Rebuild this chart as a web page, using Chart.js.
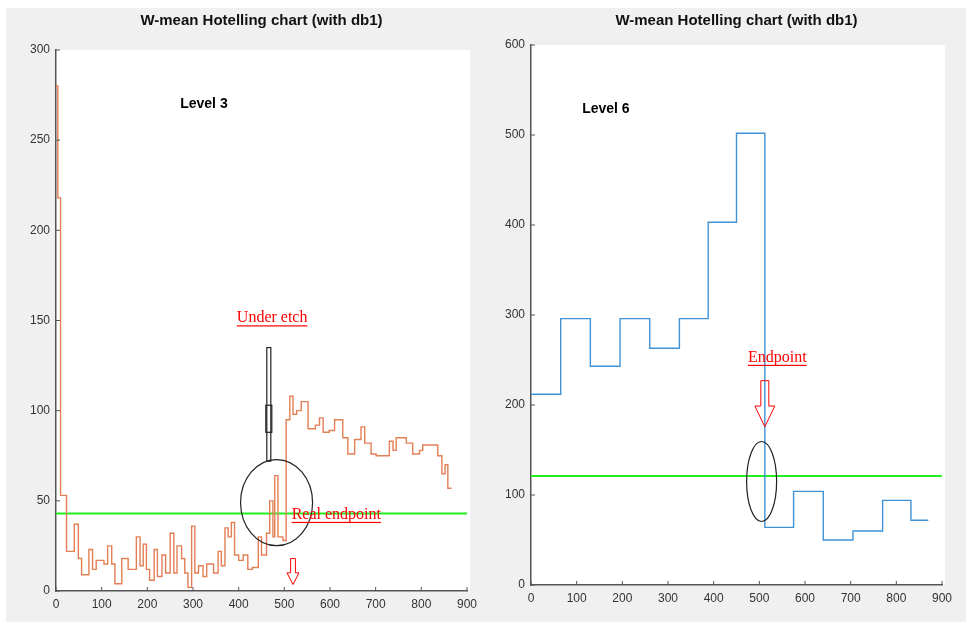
<!DOCTYPE html>
<html>
<head>
<meta charset="utf-8">
<script src="https://cdn.jsdelivr.net/npm/chart.js@4"></script>
<style>
  body { margin: 0; background: #fff; width: 970px; height: 627px; overflow: hidden; }
  .bg { position: absolute; left: 6px; top: 8px; width: 960px; height: 614px; background: #f0f0f0; }
  canvas { position: absolute; top: 0; }
</style>
</head>
<body>
<div class="bg"></div>
<canvas id="left" style="left:0px"></canvas>
<canvas id="right" style="left:485px"></canvas>
<script>
// Level 3 series (step start x, value)
const level3X = [0,4,10,23,40,49,56,72,80,88,105,113,122,129,144,158,176,184,191,198,205,215,222,232,240,250,258,265,275,282,289,297,304,312,322,330,345,355,362,370,377,384,391,400,410,420,430,443,450,461,468,475,479,486,497,504,512,519,527,537,552,568,577,585,598,610,628,639,654,668,676,690,701,730,738,745,767,781,796,803,836,845,852,858,866];
const level3Y = [280,218,53,22,37,18,9,23,12,17,15,25,15,4,18,12,30,14,26,12,6,23,8,20,10,32,10,25,18,10,2,36,10,14,8,15,10,22,14,35,30,38,20,17,20,12,13,30,20,32,50,30,64,30,28,95,108,98,100,105,90,92,96,88,89,95,85,76,84,91,82,76,75,83,78,85,82,76,78,81,75,65,70,57,57];
const level3Limit = 43;

// Level 6 series
const level6X = [0,65,130,195,260,325,388,450,512,575,640,705,770,832,870];
const level6Y = [212,296,243,296,263,296,403,502,64,104,50,60,94,72,72];
const level6Limit = 121;

const xTicks = [0,100,200,300,400,500,600,700,800,900];
const titleText = 'W-mean Hotelling chart (with db1)';

const W = 485, H = 627;

function redLabel(ctx, text, x, y) {
  ctx.font = '16px "Liberation Serif"';
  ctx.fillStyle = '#ff0000';
  ctx.textAlign = 'left';
  ctx.textBaseline = 'alphabetic';
  ctx.fillText(text, x, y);
  const w = ctx.measureText(text).width;
  ctx.fillRect(x, y + 3, w, 1.2);
}

function downArrow(ctx, x, y, w, h) {
  // hollow block arrow
  ctx.strokeStyle = '#ff0000';
  ctx.lineWidth = 1;
  const sw = w * 0.4, hh = h * 0.45;
  ctx.beginPath();
  ctx.moveTo(x - sw / 2, y);
  ctx.lineTo(x + sw / 2, y);
  ctx.lineTo(x + sw / 2, y + h - hh);
  ctx.lineTo(x + w / 2, y + h - hh);
  ctx.lineTo(x, y + h);
  ctx.lineTo(x - w / 2, y + h - hh);
  ctx.lineTo(x - sw / 2, y + h - hh);
  ctx.closePath();
  ctx.stroke();
}

function makeChart(id, xs, ys, limit, color, yMax, yStep, pad, annotate) {
  const points = xs.map((x, i) => ({ x: x, y: ys[i] }));
  const limitLine = [{ x: 0, y: limit }, { x: 900, y: limit }];
  const cv = document.getElementById(id);
  cv.width = W; cv.height = H;
  cv.style.width = W + 'px'; cv.style.height = H + 'px';
  return new Chart(cv, {
    type: 'line',
    data: {
      datasets: [
        { data: points, borderColor: color, borderWidth: 1.4, stepped: true, pointRadius: 0, fill: false },
        { data: limitLine, borderColor: '#22ee22', borderWidth: 2, pointRadius: 0, fill: false }
      ]
    },
    options: {
      responsive: false,
      animation: false,
      layout: { padding: { top: pad.top, right: pad.right, left: 0, bottom: 0 } },
      plugins: { legend: { display: false }, tooltip: { enabled: false } },
      scales: {
        x: {
          type: 'linear', min: 0, max: 900,
          afterBuildTicks: s => { s.ticks = xTicks.map(v => ({ value: v })); },
          afterFit: s => { s.height = pad.bottom; },
          grid: { display: false, drawTicks: false },
          border: { color: '#555', width: 1.5 },
          ticks: { color: '#333', font: { family: 'Liberation Sans Narrow, Arial', size: 12 }, padding: 6 }
        },
        y: {
          min: 0, max: yMax,
          ticks: { stepSize: yStep, color: '#333', font: { family: 'Liberation Sans Narrow, Arial', size: 12 }, padding: 6 },
          afterFit: s => { s.width = pad.left; },
          grid: { display: false, drawTicks: false },
          border: { color: '#555', width: 1.5 }
        }
      }
    },
    plugins: [{
      id: 'decor',
      beforeDraw: (chart) => {
        const { ctx, chartArea: a } = chart;
        ctx.save();
        ctx.fillStyle = '#fff';
        ctx.fillRect(a.left, a.top, a.right - a.left + 3, a.bottom - a.top);
        ctx.restore();
      },
      afterDraw: (chart) => {
        const { ctx, chartArea: a, scales } = chart;
        ctx.save();
        // tick marks pointing inward
        ctx.strokeStyle = '#555'; ctx.lineWidth = 1;
        xTicks.forEach(v => {
          const px = scales.x.getPixelForValue(v);
          ctx.beginPath(); ctx.moveTo(px, a.bottom); ctx.lineTo(px, a.bottom - 4); ctx.stroke();
        });
        for (let v = 0; v <= yMax; v += yStep) {
          const py = scales.y.getPixelForValue(v);
          ctx.beginPath(); ctx.moveTo(a.left, py); ctx.lineTo(a.left + 4, py); ctx.stroke();
        }
        ctx.font = 'bold 15px "Liberation Sans Narrow", Arial';
        ctx.fillStyle = '#111';
        ctx.textAlign = 'center';
        ctx.fillText(titleText, (a.left + a.right) / 2, 25);
        annotate(ctx, scales);
        ctx.restore();
      }
    }]
  });
}

makeChart('left', level3X, level3Y, level3Limit, '#e37f55', 300, 50,
  { top: 50, right: 18, left: 56, bottom: 36 },
  (ctx, s) => {
    const X = v => s.x.getPixelForValue(v), Y = v => s.y.getPixelForValue(v);
    ctx.font = 'bold 14px "Liberation Sans Narrow", Arial';
    ctx.fillStyle = '#000'; ctx.textAlign = 'left';
    ctx.fillText('Level 3', X(272), Y(268));
    redLabel(ctx, 'Under etch', X(396), Y(149));
    // black pointer
    ctx.strokeStyle = '#222'; ctx.lineWidth = 1.2;
    const px = X(466);
    ctx.strokeRect(px - 2, Y(135), 4, Y(72) - Y(135));
    ctx.strokeRect(px - 3, Y(103), 6, Y(88) - Y(103));
    ctx.beginPath();
    ctx.ellipse(X(483), Y(49), 36, 43, 0, 0, Math.PI * 2);
    ctx.stroke();
    redLabel(ctx, 'Real endpoint', X(516), Y(40));
    downArrow(ctx, X(519), Y(18), 12, 26);
  });

makeChart('right', level6X, level6Y, level6Limit, '#3f93d6', 600, 100,
  { top: 45, right: 28, left: 46, bottom: 42 },
  (ctx, s) => {
    const X = v => s.x.getPixelForValue(v), Y = v => s.y.getPixelForValue(v);
    ctx.font = 'bold 14px "Liberation Sans Narrow", Arial';
    ctx.fillStyle = '#000'; ctx.textAlign = 'left';
    ctx.fillText('Level 6', X(112), Y(524));
    redLabel(ctx, 'Endpoint', X(475), Y(248));
    downArrow(ctx, X(512), Y(227), 20, 46);
    ctx.strokeStyle = '#222'; ctx.lineWidth = 1.2;
    ctx.beginPath();
    ctx.ellipse(X(505), Y(115), 15, 40, 0, 0, Math.PI * 2);
    ctx.stroke();
  });
</script>
</body>
</html>
